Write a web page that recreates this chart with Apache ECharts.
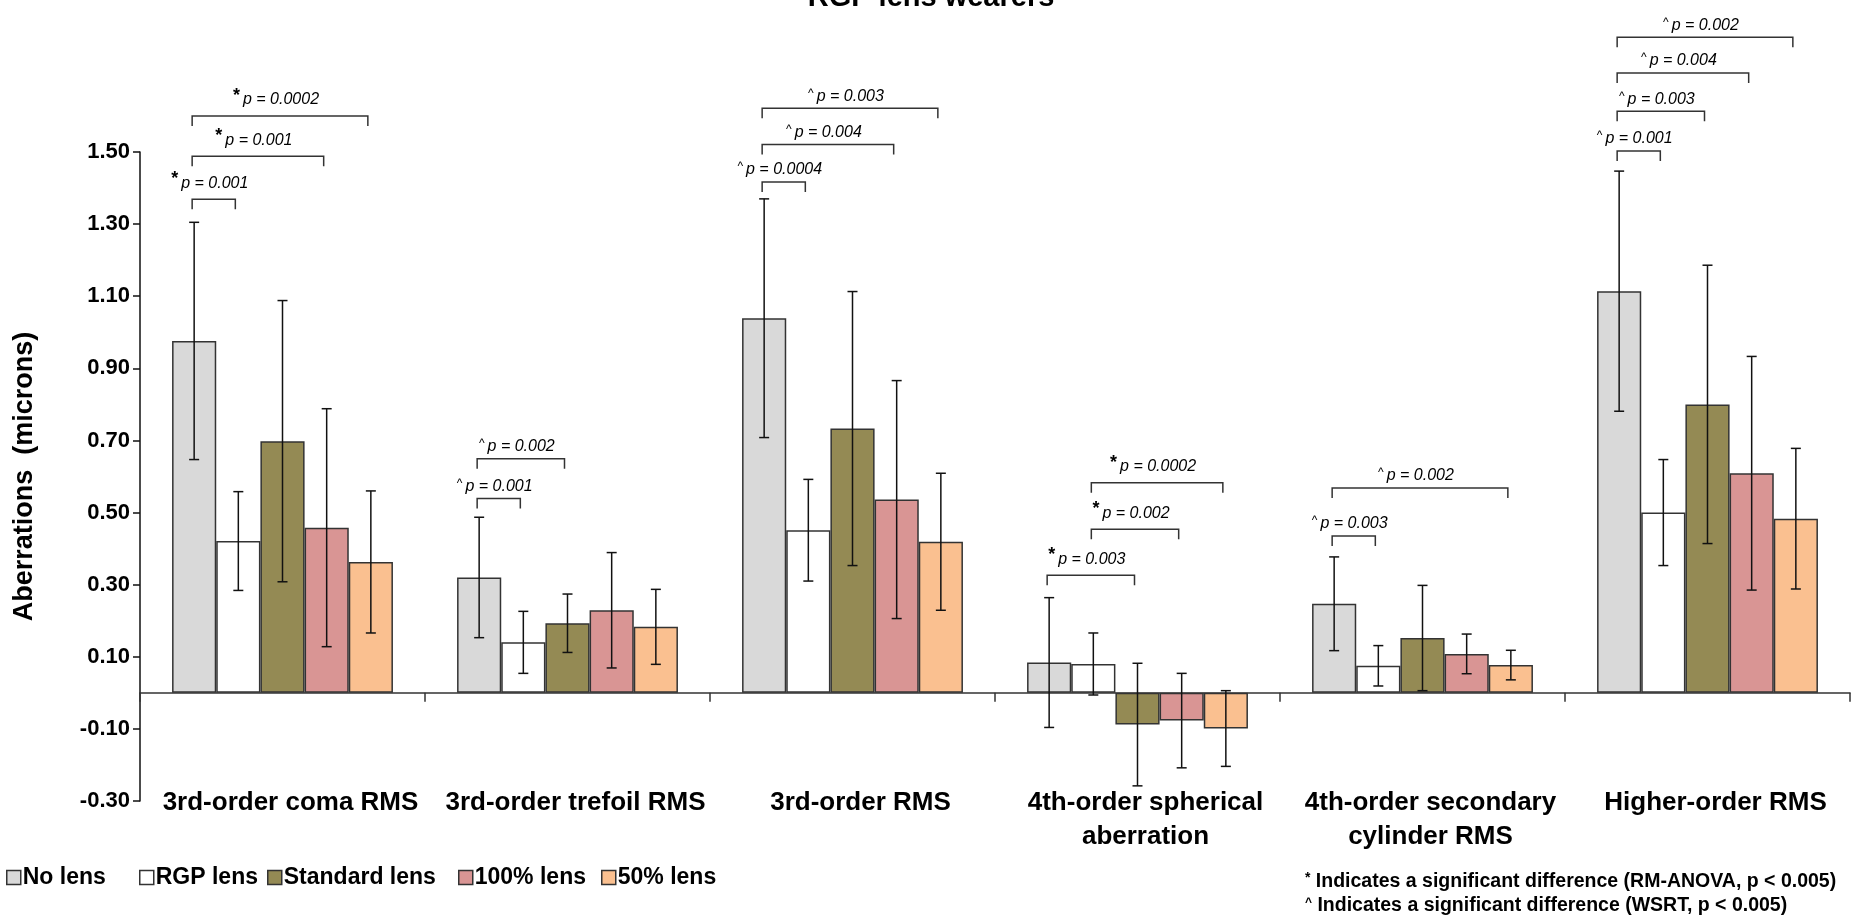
<!DOCTYPE html>
<html><head><meta charset="utf-8">
<script src="https://cdn.jsdelivr.net/npm/echarts@6/dist/echarts.min.js"></script>
<style>html,body{margin:0;padding:0;background:#fff}#c{width:1862px;height:918px}</style>
</head><body><div id="c"></div>
<script>
// ---------- data ----------
const categories = ['3rd-order coma RMS', '3rd-order trefoil RMS', '3rd-order RMS', '4th-order spherical\naberration', '4th-order secondary\ncylinder RMS', 'Higher-order RMS'];
const seriesNames = ['No lens', 'RGP lens', 'Standard lens', '100% lens', '50% lens'];
const noLens = [0.976, 0.320, 1.039, 0.084, 0.247, 1.114];
const noLensSD = [0.329, 0.167, 0.331, 0.180, 0.130, 0.333];
const rgpLens = [0.421, 0.140, 0.451, 0.080, 0.075, 0.500];
const rgpLensSD = [0.137, 0.086, 0.141, 0.086, 0.056, 0.147];
const standardLens = [0.698, 0.193, 0.733, -0.088, 0.152, 0.800];
const standardLensSD = [0.390, 0.081, 0.380, 0.170, 0.146, 0.386];
const lens100 = [0.458, 0.229, 0.536, -0.077, 0.108, 0.609];
const lens100SD = [0.330, 0.160, 0.330, 0.131, 0.055, 0.324];
const lens50 = [0.363, 0.183, 0.419, -0.099, 0.077, 0.483];
const lens50SD = [0.197, 0.104, 0.190, 0.105, 0.041, 0.195];
const yTicks = [-0.3, -0.1, 0.1, 0.3, 0.5, 0.7, 0.9, 1.1, 1.3, 1.5];
// significance brackets: category, bar from, bar to, level (microns), marker, p value
const bracketCategory = [0, 0, 0, 1, 1, 2, 2, 2, 3, 3, 3, 4, 4, 5, 5, 5, 5];
const bracketFrom = [0, 0, 0, 0, 0, 0, 0, 0, 0, 1, 1, 0, 0, 0, 0, 0, 0];
const bracketTo = [1, 3, 4, 1, 2, 1, 3, 4, 2, 3, 4, 1, 4, 1, 2, 3, 4];
const bracketLevel = [1.369, 1.488, 1.600, 0.539, 0.649, 1.417, 1.521, 1.621, 0.326, 0.454, 0.583, 0.435, 0.568, 1.503, 1.613, 1.719, 1.818];
const bracketMark = ['*', '*', '*', '^', '^', '^', '^', '^', '*', '*', '*', '^', '^', '^', '^', '^', '^'];
const bracketP = ['0.001', '0.001', '0.0002', '0.001', '0.002', '0.0004', '0.004', '0.003', '0.003', '0.002', '0.0002', '0.003', '0.002', '0.001', '0.003', '0.004', '0.002'];
const footnotes = ['Indicates a significant difference (RM-ANOVA, p < 0.005)', 'Indicates a significant difference (WSRT, p < 0.005)'];

// ---------- styling ----------
const FONT = "'Liberation Sans', Arial, sans-serif";
const colors = ['#D9D9D9', '#FFFFFF', '#948A54', '#D99594', '#FAC090'];
const legendLeft = [6, 139, 267, 458, 601];
const means = [noLens, rgpLens, standardLens, lens100, lens50];
const sds = [noLensSD, rgpLensSD, standardLensSD, lens100SD, lens50SD];
const GAP = 0.225;
const NB = seriesNames.length;

function barX(api, cat, idx) {
  const c = api.coord([cat, 0]);
  const band = api.size([1, 0])[0];
  const group = band * (1 - GAP);
  const w = group / NB;
  return c[0] - group / 2 + (idx + 0.5) * w;
}

const series = [];
seriesNames.forEach((name, i) => {
  series.push({
    name: name, type: 'bar', xAxisIndex: 0, yAxisIndex: 0,
    barGap: '0%', barCategoryGap: (GAP * 100) + '%',
    data: means[i],
    itemStyle: { color: colors[i], borderColor: '#333', borderWidth: 1.5 },
    emphasis: { disabled: true }, z: 2
  });
});
seriesNames.forEach((name, i) => {
  series.push({
    type: 'custom', xAxisIndex: 0, yAxisIndex: 0, z: 5, clip: false,
    encode: { x: 0, y: [1, 2] },
    data: means[i].map((m, k) => [k, m - sds[i][k], m + sds[i][k]]),
    renderItem: (params, api) => {
      const cat = api.value(0);
      const x = barX(api, cat, i);
      const lo = api.coord([cat, api.value(1)])[1];
      const hi = api.coord([cat, api.value(2)])[1];
      const cap = 5, st = { stroke: '#111', lineWidth: 1.5 };
      return { type: 'group', children: [
        { type: 'line', shape: { x1: x, y1: lo, x2: x, y2: hi }, style: st },
        { type: 'line', shape: { x1: x - cap, y1: lo, x2: x + cap, y2: lo }, style: st },
        { type: 'line', shape: { x1: x - cap, y1: hi, x2: x + cap, y2: hi }, style: st }
      ] };
    }
  });
});
series.push({
  type: 'custom', xAxisIndex: 0, yAxisIndex: 0, z: 6, clip: false,
  encode: { x: 0, y: 1 },
  data: bracketCategory.map((c, k) => [c, bracketLevel[k]]),
  renderItem: (params, api) => {
    const k = params.dataIndex;
    const cat = bracketCategory[k];
    const x1 = barX(api, cat, bracketFrom[k]) - 2;
    const x2 = barX(api, cat, bracketTo[k]) - 3;
    const y = api.coord([cat, bracketLevel[k]])[1];
    const leg = 10;
    const mark = bracketMark[k];
    return { type: 'group', children: [
      { type: 'polyline', shape: { points: [[x1, y + leg], [x1, y], [x2, y], [x2, y + leg]] },
        style: { stroke: '#333', lineWidth: 1.5, fill: null } },
      { type: 'text', x: (x1 + x2) / 2 - 4, y: y - 3,
        style: {
          text: (mark === '*' ? '{a|*}' : '{c|^}') + '{p|p = ' + bracketP[k] + '}',
          align: 'center', verticalAlign: 'bottom',
          rich: {
            a: { fontFamily: FONT, fontSize: 18, fontWeight: 'bold', fill: '#000', padding: [0, 3, 8, 0] },
            c: { fontFamily: FONT, fontSize: 12, fill: '#000', padding: [0, 3, 6, 0] },
            p: { fontFamily: FONT, fontSize: 16, fontStyle: 'italic', fill: '#000' }
          }
        } }
    ] };
  }
});

const legends = seriesNames.map((name, i) => ({
  data: [name], left: legendLeft[i], top: 866, itemWidth: 14, itemHeight: 14, padding: 0,
  icon: 'rect', selectedMode: false,
  itemStyle: { borderColor: '#333', borderWidth: 1.5 },
  textStyle: { fontFamily: FONT, fontSize: 23, fontWeight: 'bold', color: '#000', padding: [0, 0, 0, -3] }
}));

const option = {
  animation: false,
  backgroundColor: '#fff',
  title: { text: 'RGP lens wearers', left: 'center', top: -22,
    textStyle: { fontFamily: FONT, fontSize: 29, fontWeight: 'bold', color: '#000' } },
  grid: { left: 140, right: 12, top: 152, bottom: 117, outerBoundsMode: 'none', containLabel: false },
  legend: legends,
  xAxis: [
    { type: 'category', data: categories, position: 'bottom',
      axisLine: { onZero: true, lineStyle: { color: '#333', width: 1.5 } },
      axisTick: { show: true, length: 9, lineStyle: { color: '#333', width: 1.5 } },
      axisLabel: { show: false }, splitLine: { show: false } },
    { type: 'category', data: categories, position: 'bottom',
      axisLine: { show: false, onZero: false }, axisTick: { show: false }, splitLine: { show: false },
      axisLabel: { show: true, interval: 0, margin: -15, fontFamily: FONT, fontSize: 26, fontWeight: 'bold',
        color: '#000', lineHeight: 34, padding: [0, 0, 0, 16] } }
  ],
  yAxis: {
    type: 'value', min: -0.3, max: 1.5,
    name: 'Aberrations  (microns)', nameLocation: 'middle', nameGap: 102,
    nameTextStyle: { fontFamily: FONT, fontSize: 27, fontWeight: 'bold', color: '#000' },
    axisLine: { show: true, onZero: false, lineStyle: { color: '#111', width: 1.5 } },
    axisTick: { show: true, length: 7, customValues: yTicks, lineStyle: { color: '#111', width: 1.5 } },
    axisLabel: { customValues: yTicks, margin: 10, fontFamily: FONT, fontSize: 22, fontWeight: 'bold', color: '#000',
      formatter: v => v.toFixed(2) },
    splitLine: { show: false }
  },
  graphic: [
    { type: 'text', left: 1305, top: 871,
      style: { text: '{s|*} ' + footnotes[0], fontFamily: FONT, fontSize: 19.5, fontWeight: 'bold', fill: '#000',
        rich: { s: { fontFamily: FONT, fontSize: 14, fontWeight: 'bold', fill: '#000', padding: [0, 0, 7, 0] } } } },
    { type: 'text', left: 1305, top: 896,
      style: { text: '{s|^} ' + footnotes[1], fontFamily: FONT, fontSize: 19.5, fontWeight: 'bold', fill: '#000',
        rich: { s: { fontFamily: FONT, fontSize: 12, fontWeight: 'bold', fill: '#000', padding: [0, 0, 7, 0] } } } }
  ],
  series: series
};
const chart = echarts.init(document.getElementById('c'), null, { renderer: 'canvas' });
chart.setOption(option);
</script>
</body></html>
